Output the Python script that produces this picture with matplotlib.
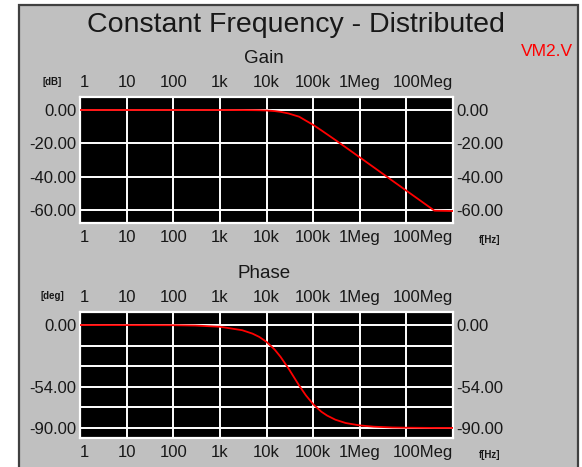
import matplotlib
matplotlib.use("Agg")
import matplotlib.pyplot as plt
from matplotlib.patches import Rectangle

plt.rcParams['font.family'] = ['Liberation Sans', 'DejaVu Sans']

# frequency points (Hz)
freq = [1, 100, 300, 1e3, 3e3, 5e3, 7e3, 1e4, 1.5e4, 2e4, 3e4, 4e4, 5e4,
        7e4, 1e5, 1.5e5, 2e5, 3e5, 5e5, 1e6, 2e6, 5e6, 1e7, 2e7, 4e7, 1e8]
gain_db = [0, 0, 0, 0, -0.05, -0.1, -0.15, -0.3, -0.65, -1.1, -2.1, -3.2,
           -4.0, -6.4, -8.9, -12.2, -14.6, -18.0, -22.4, -28.4, -34.4,
           -42.4, -48.4, -54.4, -60.4, -60.6]
phase_deg = [0, -0.15, -0.45, -1.5, -4.5, -7.5, -10.4, -14.7, -21.5, -27.8,
             -38.3, -46.5, -52.8, -61.5, -69.2, -75.8, -79.2, -82.8, -85.7,
             -87.8, -88.9, -89.6, -89.8, -89.9, -90.0, -90.0]

xticks = [1, 10, 100, 1e3, 1e4, 1e5, 1e6, 1e7, 1e8]
xlabels = ['1', '10', '100', '1k', '10k', '100k', '1Meg', '', '100Meg']
gain_ticks = [0, -20, -40, -60]
gain_labels = ['0.00', '-20.00', '-40.00', '-60.00']
phase_ticks = [0, -18, -36, -54, -72, -90]
phase_labels = ['0.00', '', '', '-54.00', '', '-90.00']

W, H = 582, 467
fig = plt.figure(figsize=(W / 100, H / 100), dpi=100, facecolor='white')

# grey panel with dark frame
fig.patches.append(Rectangle((19 / W, -0.05), 559 / W, 1.05 - 5 / H,
                             transform=fig.transFigure, facecolor='#c0c0c0',
                             edgecolor='#404040', lw=1.6, zorder=-10))

fig.text(296 / W, 1 - 32 / H, 'Constant Frequency - Distributed',
         ha='center', va='baseline', fontsize=20.5, color='#181818')
fig.text(547 / W, 1 - 56 / H, 'VM2.V', ha='center', va='baseline',
         fontsize=12.5, color='red')


def setup(ax, y, yticks, ylabels, ylim, title, unit, title_y, unit_y, f_y):
    ax.set_facecolor('black')
    ax.plot(freq, y, color='red', lw=1.3, zorder=3)
    ax.set_xscale('log')
    ax.set_xlim(1, 1e8)
    ax.set_ylim(*ylim)
    ax.set_xticks(xticks)
    ax.set_xticklabels(xlabels)
    ax.minorticks_off()
    ax.set_yticks(yticks)
    ax.set_yticklabels(ylabels)
    ax.grid(True, color='white', lw=1.4)
    ax.set_axisbelow(True)
    for s in ax.spines.values():
        s.set_color('white')
        s.set_linewidth(1.6)
    ax.tick_params(axis='x', length=0, labeltop=True, labelbottom=True,
                   labelsize=12, pad=5, colors='#181818')
    ax.tick_params(axis='y', length=0, labelleft=True, labelright=True,
                   labelsize=12, pad=2.5, colors='#181818')
    # keep the end labels inside the plot width
    ticks = ax.xaxis.get_major_ticks()
    for lab in (ticks[0].label1, ticks[0].label2):
        lab.set_ha('left')
    for lab in (ticks[-1].label1, ticks[-1].label2):
        lab.set_ha('right')
    fig.text(264 / W, 1 - title_y / H, title, ha='center', va='baseline',
             fontsize=13.5, color='#181818')
    fig.text(52 / W, 1 - unit_y / H, unit, ha='center', va='center',
             fontsize=7, fontweight='bold', color='#181818')
    fig.text(490 / W, 1 - f_y / H, 'f[Hz]', ha='center', va='center',
             fontsize=7, fontweight='bold', color='#181818')


ax1 = fig.add_axes([80 / W, 1 - 223 / H, 373 / W, 126 / H])
setup(ax1, gain_db, gain_ticks, gain_labels, (-67.8, 7.8),
      'Gain', '[dB]', 63, 82, 240)

ax2 = fig.add_axes([80 / W, 1 - 438 / H, 373 / W, 126 / H])
setup(ax2, phase_deg, phase_ticks, phase_labels, (-98.8, 11.4),
      'Phase', '[deg]', 278, 296, 455)

fig.savefig('out.png', dpi=100, facecolor='white')
